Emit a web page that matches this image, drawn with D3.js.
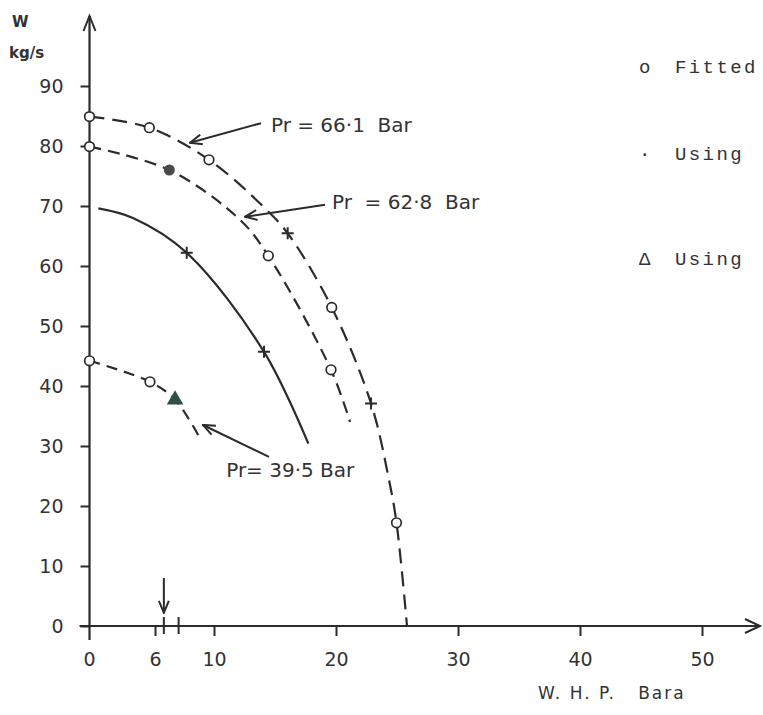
<!DOCTYPE html>
<html>
<head>
<meta charset="utf-8">
<script src="https://cdn.jsdelivr.net/npm/d3@7"></script>
<style>
  body { margin: 0; background: #fff; }
  svg { display: block; }
  .axis .tick text { font-family: "DejaVu Sans", sans-serif; font-size: 19px; fill: #333; }
  .axis .tick line { stroke: #2b2b2b; stroke-width: 2; }
  .note { font-family: "DejaVu Sans", sans-serif; font-size: 20px; fill: #333; white-space: pre; }
  .legend { font-family: "Liberation Mono", monospace; font-size: 19px; fill: #333; letter-spacing: 2.4px; }
</style>
</head>
<body>
<div id="chart"></div>
<script>
// hand drawn axis: the 0..10 stretch is not to the same scale as 10..50
var xTicks = [0, 6, 10, 20, 30, 40, 50];
var xMarks = [6.6, 7.6];
var yTicks = [0, 10, 20, 30, 40, 50, 60, 70, 80, 90];

// W (kg/s) vs W.H.P. (Bara)
var curve661 = [[0, 84.9], [5.48, 83.05], [9.66, 77.7], [14.04, 69.9], [16.04, 65.45],
                [19.65, 53.1], [22.87, 37.1], [24.29, 24.9], [24.96, 17.2], [25.82, 0]];
var curve628 = [[0, 79.9], [6.97, 76.0], [12.13, 67.7], [14.45, 61.7], [19.59, 42.7], [21.15, 34.0]];
var curveSolid = [[0.81, 69.6], [3.98, 68.0], [8.15, 62.2], [14.1, 45.7], [17.73, 30.4]];
var curve395 = [[0, 44.2], [5.54, 40.7], [7.36, 37.7], [9.05, 31.3]];

var fitted = [[0, 84.9], [5.48, 83.05], [9.66, 77.7], [19.65, 53.1], [24.96, 17.2],
              [0, 79.9], [14.45, 61.7], [19.59, 42.7],
              [0, 44.2], [5.54, 40.7]];
var crosses = [[16.04, 65.45], [22.87, 37.1], [8.15, 62.2], [14.1, 45.7]];
var dots = [[6.97, 76.0]];
var triangles = [[7.36, 37.7]];

var notes = [
  {text: "Pr = 66\u00b71  Bar", tx: 14.67, ty: 82.4, from: [13.85, 83.8], to: [8.37, 80.55]},
  {text: "Pr  = 62\u00b78  Bar", tx: 19.67, ty: 69.5, from: [19.10, 70.2], to: [12.54, 68.2]},
  {text: "Pr= 39\u00b75 Bar", tx: 11.0, ty: 24.9, from: [14.51, 28.2], to: [9.25, 33.5]}
];
var marker = {x: 6.6, from: 8.0, to: 2.2};

var legendItems = [
  {sym: "o", label: "Fitted", y: 73},
  {sym: "\u00b7", label: "Using", y: 160},
  {sym: "\u0394", label: "Using", y: 265}
];

var width = 763, height = 715;
var ink = "#2b2b2b";

var svg = d3.select("#chart").append("svg")
    .attr("width", width)
    .attr("height", height);

var defs = svg.append("defs");
defs.append("marker")
    .attr("id", "head")
    .attr("viewBox", "0 0 14 12")
    .attr("refX", 13).attr("refY", 6)
    .attr("markerWidth", 14).attr("markerHeight", 12)
    .attr("markerUnits", "userSpaceOnUse")
    .attr("orient", "auto")
  .append("path")
    .attr("d", "M1,1 L13,6 L1,11")
    .attr("fill", "none")
    .attr("stroke", ink)
    .attr("stroke-width", 2);

var x = d3.scaleLinear().domain([0, 6, 10, 50]).range([89.5, 155, 214, 702]);
var y = d3.scaleLinear().domain([0, 90]).range([626, 86]);

// axis lines with arrow tips
svg.append("line")
    .attr("x1", x(0)).attr("x2", x(0))
    .attr("y1", y(0) + 14).attr("y2", 16)
    .attr("stroke", ink).attr("stroke-width", 2.2);
svg.append("path")
    .attr("d", "M" + (x(0) - 6) + ",31 L" + x(0) + ",16 L" + (x(0) + 6) + ",31")
    .attr("fill", "none").attr("stroke", ink).attr("stroke-width", 2);
svg.append("line")
    .attr("x1", x(0) - 10).attr("x2", 760)
    .attr("y1", y(0)).attr("y2", y(0))
    .attr("stroke", ink).attr("stroke-width", 2.2);
svg.append("path")
    .attr("d", "M745," + (y(0) - 7) + " L760," + y(0) + " L745," + (y(0) + 7))
    .attr("fill", "none").attr("stroke", ink).attr("stroke-width", 2);

function customYAxis(g) {
  g.call(d3.axisLeft(y).tickValues(yTicks).tickSize(9).tickPadding(17).tickFormat(d3.format("d")));
  g.select(".domain").remove();
}
function customXAxis(g) {
  g.call(d3.axisBottom(x).tickValues(xTicks.filter(function(d) { return d > 0; }))
      .tickSize(10).tickPadding(17).tickFormat(d3.format("d")));
  g.select(".domain").remove();
}

svg.append("g")
    .attr("class", "axis axis--y")
    .attr("transform", "translate(" + x(0) + ",0)")
    .call(customYAxis);
svg.append("g")
    .attr("class", "axis axis--x")
    .attr("transform", "translate(0," + y(0) + ")")
    .call(customXAxis);
// the 0 label sits under the y axis line
svg.append("text")
    .attr("x", x(0)).attr("y", y(0) + 27).attr("dy", "0.71em")
    .attr("text-anchor", "middle")
    .style("font-family", "DejaVu Sans, sans-serif").style("font-size", "19px").style("fill", "#333")
    .text(xTicks[0]);

svg.selectAll(".mark")
    .data(xMarks)
  .enter().append("line")
    .attr("class", "mark")
    .attr("x1", function(d) { return x(d); }).attr("x2", function(d) { return x(d); })
    .attr("y1", y(0) - 9).attr("y2", y(0) + 8)
    .attr("stroke", ink).attr("stroke-width", 2);

svg.append("line")
    .attr("x1", x(marker.x)).attr("x2", x(marker.x))
    .attr("y1", y(marker.from)).attr("y2", y(marker.to))
    .attr("stroke", ink).attr("stroke-width", 2)
    .attr("marker-end", "url(#head)");

// axis titles
svg.append("text").attr("x", 12).attr("y", 27)
    .style("font-family", "DejaVu Sans, sans-serif").style("font-size", "15px").style("font-weight", "bold").style("fill", "#333")
    .text("W");
svg.append("text").attr("x", 9).attr("y", 58)
    .style("font-family", "DejaVu Sans, sans-serif").style("font-size", "15px").style("font-weight", "bold").style("fill", "#333")
    .text("kg/s");
svg.append("text").attr("x", 538).attr("y", 699)
    .style("font-family", "DejaVu Sans, sans-serif").style("font-size", "17px").style("fill", "#333")
    .style("white-space", "pre").style("letter-spacing", "2px")
    .text("W. H. P.   Bara");

// curves
var line = d3.line()
    .x(function(d) { return x(d[0]); })
    .y(function(d) { return y(d[1]); })
    .curve(d3.curveCatmullRom.alpha(0.5));

[[curve661, "15,8"], [curve628, "12,7"], [curveSolid, null], [curve395, "11,7"]].forEach(function(c) {
  svg.append("path")
      .datum(c[0])
      .attr("d", line)
      .attr("fill", "none")
      .attr("stroke", ink)
      .attr("stroke-width", 2.2)
      .attr("stroke-dasharray", c[1]);
});

// markers
svg.selectAll(".fit")
    .data(fitted)
  .enter().append("circle")
    .attr("class", "fit")
    .attr("cx", function(d) { return x(d[0]); })
    .attr("cy", function(d) { return y(d[1]); })
    .attr("r", 4.8)
    .attr("fill", "#fff")
    .attr("stroke", ink)
    .attr("stroke-width", 1.7);

svg.selectAll(".cross")
    .data(crosses)
  .enter().append("path")
    .attr("class", "cross")
    .attr("transform", function(d) { return "translate(" + x(d[0]) + "," + y(d[1]) + ")"; })
    .attr("d", "M-6,0H6M0,-6V6")
    .attr("stroke", ink)
    .attr("stroke-width", 2);

svg.selectAll(".dot")
    .data(dots)
  .enter().append("circle")
    .attr("class", "dot")
    .attr("cx", function(d) { return x(d[0]); })
    .attr("cy", function(d) { return y(d[1]); })
    .attr("r", 5.5)
    .attr("fill", "#4a4a4a");

svg.selectAll(".tri")
    .data(triangles)
  .enter().append("path")
    .attr("class", "tri")
    .attr("transform", function(d) { return "translate(" + x(d[0]) + "," + y(d[1]) + ")"; })
    .attr("d", d3.symbol(d3.symbolTriangle, 120))
    .attr("fill", "#2f4f4a");

// pressure notes
notes.forEach(function(n) {
  svg.append("line")
      .attr("x1", x(n.from[0])).attr("y1", y(n.from[1]))
      .attr("x2", x(n.to[0])).attr("y2", y(n.to[1]))
      .attr("stroke", ink).attr("stroke-width", 2)
      .attr("marker-end", "url(#head)");
  svg.append("text")
      .attr("class", "note")
      .attr("x", x(n.tx)).attr("y", y(n.ty))
      .text(n.text);
});

// legend sits against the right edge like the scan
var legend = svg.selectAll(".legend-item")
    .data(legendItems)
  .enter().append("g")
    .attr("class", "legend-item");
legend.append("text")
    .attr("class", "legend")
    .attr("x", 646).attr("y", function(d) { return d.y; })
    .attr("text-anchor", "middle")
    .text(function(d) { return d.sym; });
legend.append("text")
    .attr("class", "legend")
    .attr("x", 675).attr("y", function(d) { return d.y; })
    .text(function(d) { return d.label; });
</script>
</body>
</html>
